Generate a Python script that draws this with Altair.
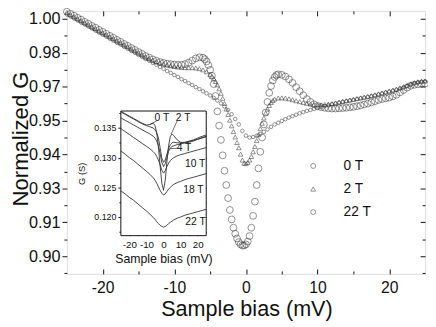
import json
import altair as alt
import pandas as pd

FONT = "Liberation Sans"
SERIES = ["0 T", "2 T", "22 T"]

# ---------------- main panel data (normalized conductance) ----------------
bias_0T = [-25, -24.5, -24, -23.5, -23, -22.5, -22, -21.5, -21, -20.5, -20, -19.5, -19, -18.5,
           -18, -17.5, -17, -16.5, -16, -15.5, -15, -14.5, -14, -13.5, -13, -12.5, -12, -11.5,
           -11, -10.5, -10, -9.5, -9, -8.5, -8, -7.5, -7, -6.5,
           -6, -5.75, -5.5, -5.25, -5, -4.75, -4.5, -4.25, -4, -3.75, -3.5, -3.25, -3, -2.75,
           -2.5, -2.25, -2, -1.75, -1.5, -1.25, -1, -0.75, -0.5, -0.25, 0, 0.25, 0.5, 0.75,
           1, 1.25, 1.5, 1.75, 2, 2.25, 2.5, 2.75, 3, 3.25, 3.5, 3.75, 4, 4.25, 4.5,
           5, 5.5, 6, 6.5, 7, 7.5, 8, 8.5, 9, 9.5, 10, 10.5, 11, 11.5, 12, 12.5, 13, 13.5, 14,
           14.5, 15, 15.5, 16, 16.5, 17, 17.5, 18, 18.5, 19, 19.5, 20, 20.5, 21, 21.5, 22, 22.5,
           23, 23.5, 24, 24.5, 25]
g_0T = [1.0030, 1.0021, 1.0013, 1.0004, 0.9996, 0.9987, 0.9979, 0.9970, 0.9962, 0.9953,
        0.9945, 0.9937, 0.9928, 0.9920, 0.9911, 0.9903, 0.9894, 0.9886, 0.9877, 0.9869,
        0.9860, 0.9852, 0.9843, 0.9836, 0.9829, 0.9823, 0.9818, 0.9814, 0.9811, 0.9809,
        0.9807, 0.9806, 0.9806, 0.9809, 0.9815, 0.9824, 0.9833, 0.9838,
        0.9836, 0.9830, 0.9820, 0.9805, 0.9785, 0.9760, 0.9725, 0.9675, 0.9610, 0.9550,
        0.9490, 0.9425, 0.9360, 0.9300, 0.9245, 0.9195, 0.9155, 0.9120, 0.9095, 0.9075,
        0.9060, 0.9050, 0.9045, 0.9045, 0.9050, 0.9062, 0.9085, 0.9120, 0.9170, 0.9230,
        0.9300, 0.9370, 0.9440, 0.9500, 0.9555, 0.9605, 0.9650, 0.9688, 0.9717, 0.9740,
        0.9755, 0.9763, 0.9766,
        0.9764, 0.9757, 0.9745, 0.9730, 0.9712, 0.9695, 0.9678, 0.9662, 0.9650, 0.9640,
        0.9633, 0.9628, 0.9625, 0.9623, 0.9622, 0.9622, 0.9623, 0.9624, 0.9625, 0.9627,
        0.9629, 0.9632, 0.9635, 0.9639, 0.9643, 0.9648, 0.9653, 0.9658, 0.9662, 0.9665,
        0.9668, 0.9673, 0.9680, 0.9690, 0.9700, 0.9710, 0.9718, 0.9722, 0.9724, 0.9726,
        0.9727]

bias_2T = [-25, -24.5, -24, -23.5, -23, -22.5, -22, -21.5, -21, -20.5, -20, -19.5, -19, -18.5,
           -18, -17.5, -17, -16.5, -16, -15.5, -15, -14.5, -14, -13.5, -13, -12.5, -12, -11.5,
           -11, -10.5, -10, -9.5, -9, -8.5, -8, -7.5, -7, -6.5, -6, -5.5, -5,
           -4.75, -4.5, -4.25, -4, -3.75, -3.5, -3.25, -3, -2.75, -2.5, -2.25, -2, -1.75, -1.5,
           -1.25, -1, -0.75, -0.5, -0.25, 0, 0.25, 0.5, 0.75, 1, 1.25, 1.5, 1.75, 2, 2.25, 2.5,
           2.75, 3, 3.25, 3.5, 3.75, 4,
           4.5, 5, 5.5, 6, 6.5, 7, 7.5, 8, 8.5, 9, 9.5, 10, 10.5, 11, 11.5, 12, 12.5, 13, 13.5,
           14, 14.5, 15, 15.5, 16, 16.5, 17, 17.5, 18, 18.5, 19, 19.5, 20, 20.5, 21, 21.5, 22,
           22.5, 23, 23.5, 24, 24.5, 25]
g_2T = [1.0027, 1.0018, 1.0010, 1.0001, 0.9993, 0.9984, 0.9976, 0.9967, 0.9959, 0.9950,
        0.9942, 0.9934, 0.9925, 0.9917, 0.9908, 0.9900, 0.9891, 0.9883, 0.9874, 0.9866,
        0.9857, 0.9849, 0.9840, 0.9833, 0.9826, 0.9820, 0.9815, 0.9810, 0.9806, 0.9802,
        0.9799, 0.9797, 0.9795, 0.9794, 0.9794, 0.9794, 0.9793, 0.9790, 0.9785, 0.9777,
        0.9766,
        0.9758, 0.9748, 0.9736, 0.9722, 0.9705, 0.9686, 0.9665, 0.9643, 0.9620, 0.9597,
        0.9573, 0.9549, 0.9525, 0.9502, 0.9479, 0.9457, 0.9430, 0.9405, 0.9392, 0.9390,
        0.9395, 0.9405, 0.9420, 0.9440, 0.9462, 0.9487, 0.9512, 0.9537, 0.9560, 0.9582,
        0.9603, 0.9620, 0.9635, 0.9647, 0.9656, 0.9662,
        0.9666, 0.9667, 0.9666, 0.9663, 0.9659, 0.9655, 0.9651, 0.9647, 0.9644, 0.9641,
        0.9639, 0.9638, 0.9638, 0.9639, 0.9641, 0.9643, 0.9646, 0.9649, 0.9652, 0.9655,
        0.9658, 0.9661, 0.9664, 0.9667, 0.9670, 0.9673, 0.9676, 0.9680, 0.9684, 0.9688,
        0.9692, 0.9696, 0.9700, 0.9704, 0.9709, 0.9714, 0.9720, 0.9726, 0.9731, 0.9735,
        0.9737, 0.9738]

bias_22T = [-25, -24.5, -24, -23.5, -23, -22.5, -22, -21.5, -21, -20.5, -20, -19.5, -19, -18.5,
            -18, -17.5, -17, -16.5, -16, -15.5, -15, -14.5, -14, -13.5, -13, -12.5, -12, -11.5,
            -11, -10.5, -10, -9.5, -9, -8.5, -8, -7.5, -7, -6.5, -6, -5.5, -5, -4.5, -4, -3.5,
            -3, -2.5, -2, -1.5, -1, -0.5, 0, 0.5, 1, 1.5, 2, 2.5, 3, 3.5, 4, 4.5, 5, 5.5, 6,
            6.5, 7, 7.5, 8, 8.5, 9, 9.5, 10, 10.5, 11, 11.5, 12, 12.5, 13, 13.5, 14, 14.5, 15,
            15.5, 16, 16.5, 17, 17.5, 18, 18.5, 19, 19.5, 20, 20.5, 21, 21.5, 22, 22.5, 23,
            23.5, 24, 24.5, 25]
g_22T = [1.0018, 1.0010, 1.0001, 0.9993, 0.9984, 0.9976, 0.9967, 0.9959, 0.9950, 0.9942,
         0.9933, 0.9925, 0.9916, 0.9908, 0.9899, 0.9891, 0.9882, 0.9874, 0.9865, 0.9857,
         0.9848, 0.9840, 0.9831, 0.9823, 0.9814, 0.9806, 0.9797, 0.9789, 0.9780, 0.9772,
         0.9763, 0.9755, 0.9746, 0.9738, 0.9729, 0.9721, 0.9712, 0.9704, 0.9695, 0.9686,
         0.9677,
         0.9667, 0.9656, 0.9644, 0.9631, 0.9616, 0.9598, 0.9578, 0.9555, 0.9528, 0.9508,
         0.9500, 0.9502, 0.9507, 0.9515, 0.9524, 0.9534, 0.9545, 0.9555, 0.9562, 0.9570,
         0.9577, 0.9584, 0.9590, 0.9596, 0.9602, 0.9607, 0.9612, 0.9616, 0.9620, 0.9624,
         0.9628, 0.9632, 0.9636, 0.9640, 0.9643, 0.9647, 0.9650, 0.9653, 0.9656, 0.9659,
         0.9662, 0.9665, 0.9668, 0.9671, 0.9674, 0.9677, 0.9681, 0.9685, 0.9689, 0.9693,
         0.9697, 0.9701, 0.9706, 0.9711, 0.9717, 0.9723, 0.9728, 0.9732, 0.9735, 0.9737]

marker_sizes = {"0 T": 48, "2 T": 22, "22 T": 13}

# ---------------- inset data (G in S) ----------------
inset_bias = [-25, -22.5, -20, -17.5, -15, -12.5, -10, -8, -6, -5, -4, -3, -2, -1, 0,
              1, 2, 3, 4, 5, 6, 8, 10, 12.5, 15, 17.5, 20, 22.5, 25]
inset_0T = [0.1378, 0.1374, 0.1370, 0.1366, 0.1362, 0.1358, 0.1355, 0.1356, 0.1358, 0.1354,
            0.1342, 0.1318, 0.1286, 0.1257, 0.1245, 0.1262, 0.1294, 0.1321, 0.1336, 0.1340,
            0.1337, 0.1330, 0.1326, 0.1325, 0.1326, 0.1328, 0.1331, 0.1334, 0.1336]
inset_2T = [0.1377, 0.1373, 0.1369, 0.1365, 0.1361, 0.1357, 0.1354, 0.1352, 0.1350, 0.1347,
            0.1342, 0.1333, 0.1317, 0.1299, 0.1292, 0.1296, 0.1306, 0.1316, 0.1322, 0.1325,
            0.1326, 0.1325, 0.1325, 0.1326, 0.1328, 0.1330, 0.1333, 0.1336, 0.1338]
inset_4T = [0.1367, 0.1363, 0.1359, 0.1355, 0.1351, 0.1347, 0.1343, 0.1340, 0.1336, 0.1333,
            0.1328, 0.1320, 0.1307, 0.1292, 0.1285, 0.1290, 0.1300, 0.1311, 0.1316, 0.1319,
            0.1320, 0.1322, 0.1323, 0.1325, 0.1327, 0.1329, 0.1331, 0.1333, 0.1335]
inset_10T = [0.1349, 0.1344, 0.1339, 0.1334, 0.1329, 0.1324, 0.1319, 0.1315, 0.1310, 0.1307,
             0.1302, 0.1296, 0.1288, 0.1279, 0.1274, 0.1278, 0.1285, 0.1291, 0.1295, 0.1298,
             0.1300, 0.1303, 0.1305, 0.1307, 0.1309, 0.1311, 0.1313, 0.1315, 0.1317]
inset_18T = [0.1311, 0.1306, 0.1300, 0.1295, 0.1289, 0.1283, 0.1277, 0.1272, 0.1266, 0.1262,
             0.1257, 0.1251, 0.1245, 0.1240, 0.1237, 0.1239, 0.1243, 0.1247, 0.1250, 0.1253,
             0.1255, 0.1258, 0.1260, 0.1263, 0.1265, 0.1267, 0.1269, 0.1271, 0.1273]
inset_22T = [0.1244, 0.1239, 0.1233, 0.1228, 0.1222, 0.1216, 0.1210, 0.1205, 0.1199, 0.1196,
             0.1192, 0.1189, 0.1186, 0.1184, 0.1183, 0.1184, 0.1186, 0.1189, 0.1191, 0.1193,
             0.1195, 0.1198, 0.1200, 0.1203, 0.1205, 0.1207, 0.1209, 0.1211, 0.1213]

inset_label_text = ["0 T", "2 T", "4 T", "10 T", "18 T", "22 T"]
inset_label_x = [-1.0, 11.5, 12.0, 18.5, 17.5, 18.7]
inset_label_y = [0.1367, 0.1367, 0.1316, 0.1290, 0.1246, 0.1192]

leader_x = [-4.0, 8.0, 8.8]
leader_y = [0.1362, 0.1362, 0.1316]
leader_x2 = [-8.0, 4.5, 3.5]
leader_y2 = [0.1356, 0.1340, 0.1315]

# ---------------- ticks ----------------
y_tick_labels = ["0.90", "0.91", "0.93", "0.94", "0.95", "0.97", "0.98", "1.00"]
y_major = [0.9 + i / 70 for i in range(8)]
y_minor = [0.9 + (i - 0.5) / 70 for i in range(8)]
x_major = [-20, -10, 0, 10, 20]
x_minor = [-15, -5, 5, 15]
ix_major = [-20, -10, 0, 10, 20]
ix_minor = [-15, -5, 5, 15]
iy_major = [0.120, 0.125, 0.130, 0.135]
iy_minor = [0.1175, 0.1225, 0.1275, 0.1325, 0.1375]

# ---------------- layout ----------------
W, H = 365, 268
X_DOM = [-25, 25]
Y_DOM = [0.89256, 1.00331]
IX_DOM = [-25, 25]
IY_DOM = [0.11686, 0.13786]
IX_RANGE = [55, 142]
IY_RANGE = [229, 102]
INK = "#111111"
MARK = "#3a3a3a"


def sx():
    return alt.Scale(domain=X_DOM, nice=False, zero=False)


def sy():
    return alt.Scale(domain=Y_DOM, nice=False, zero=False)


def isx():
    return alt.Scale(domain=IX_DOM, range=IX_RANGE, nice=False, zero=False)


def isy():
    return alt.Scale(domain=IY_DOM, range=IY_RANGE, nice=False, zero=False)


def tick_axis(orient, values, size, offset):
    return alt.Axis(orient=orient, values=values, tickSize=size, tickColor=INK, tickWidth=1,
                    labels=False, domain=False, grid=False, title="", offset=offset)


neg_label = "datum.value < 0 ? '-' + abs(datum.value) : '' + datum.value"

df_main = pd.concat([
    pd.DataFrame({"bias": bias_0T, "g": g_0T, "series": "0 T"}),
    pd.DataFrame({"bias": bias_2T, "g": g_2T, "series": "2 T"}),
    pd.DataFrame({"bias": bias_22T, "g": g_22T, "series": "22 T"}),
], ignore_index=True)

dummy = pd.DataFrame({"bias": [0.0], "g": [0.95], "ib": [0.0], "ig": [0.125]})

shape_scale = alt.Scale(domain=SERIES, range=["circle", "triangle-up", "circle"])
shape_legend = alt.Legend(title=None, orient="none", legendX=244, legendY=151,
                          labelFontSize=14, labelFont=FONT, labelColor=INK,
                          labelOffset=24, symbolSize=25, symbolStrokeWidth=0.8,
                          symbolStrokeColor="#444444", symbolFillColor="white",
                          rowPadding=9.5, padding=0)

x_main_axis = alt.Axis(
    orient="bottom", values=x_major, ticks=False, domain=False, grid=False,
    labelExpr=neg_label, labelFontSize=16, labelPadding=6, labelColor=INK, labelFont=FONT,
    title="Sample bias (mV)", titleFontSize=22, titleFontWeight="normal", titleColor=INK,
    titleFont=FONT, titleX=183, titleY=42, titleBaseline="alphabetic")
y_main_axis = alt.Axis(
    orient="left", values=y_major,
    labelExpr=json.dumps(y_tick_labels) + "[round((datum.value-0.9)*70)]",
    tickSize=5, tickColor=INK, domain=False, grid=False, labelFontSize=16.5, labelPadding=2,
    labelColor=INK, labelFont=FONT, title="Normalized G", titleFontSize=22.5,
    titleFontWeight="normal", titleColor=INK, titleFont=FONT, titleX=-47, titleY=130,
    titleBaseline="middle", titleAngle=270)


def point_layer(name, xax, yax):
    sub = df_main[df_main["series"] == name]
    return alt.Chart(sub).mark_point(filled=False, strokeWidth=0.8, color=MARK,
                                     size=marker_sizes[name]).encode(
        x=alt.X("bias:Q", scale=sx(), axis=xax),
        y=alt.Y("g:Q", scale=sy(), axis=yax),
        shape=alt.Shape("series:N", scale=shape_scale, legend=shape_legend),
    )


p0 = point_layer("0 T", x_main_axis, y_main_axis)
p2 = point_layer("2 T", None, None)
p22 = point_layer("22 T", None, None)


def main_ticks(xax, yax):
    return alt.Chart(dummy).mark_point(opacity=0, size=1).encode(
        x=alt.X("bias:Q", scale=sx(), axis=xax),
        y=alt.Y("g:Q", scale=sy(), axis=yax),
    )


mt1 = main_ticks(tick_axis("bottom", x_major, 5, -5), tick_axis("left", y_minor, 3, 0))
mt2 = main_ticks(tick_axis("bottom", x_minor, 3, -3), tick_axis("right", y_major, 5, -5))
mt3 = main_ticks(tick_axis("top", x_major, 5, -5), tick_axis("right", y_minor, 3, -3))
mt4 = main_ticks(tick_axis("top", x_minor, 3, -3), None)

# ---------------- inset ----------------
frame_df = pd.DataFrame({"x1": [IX_DOM[0]], "x2": [IX_DOM[1]], "y1": [IY_DOM[0]], "y2": [IY_DOM[1]]})
inset_frame = alt.Chart(frame_df).mark_rect(fill="white", stroke=INK, strokeWidth=1).encode(
    x=alt.X("x1:Q", scale=isx(), axis=None), x2="x2:Q",
    y=alt.Y("y1:Q", scale=isy(), axis=None), y2="y2:Q",
)

inset_df = pd.concat([
    pd.DataFrame({"ib": inset_bias, "ig": vals, "field": name})
    for name, vals in [("0 T", inset_0T), ("2 T", inset_2T), ("4 T", inset_4T),
                       ("10 T", inset_10T), ("18 T", inset_18T), ("22 T", inset_22T)]
], ignore_index=True)

inset_lines = alt.Chart(inset_df).mark_line(color="#333333", strokeWidth=0.9).encode(
    x=alt.X("ib:Q", scale=isx(), axis=alt.Axis(
        orient="bottom", values=ix_major, ticks=False, domain=False, grid=False, offset=-39,
        labelExpr=neg_label, labelFontSize=10, labelPadding=4, labelColor=INK, labelFont=FONT,
        title="Sample bias (mV)", titleFontSize=12.5, titleFontWeight="normal", titleColor=INK,
        titleFont=FONT, titleX=98.5, titleY=27, titleBaseline="alphabetic")),
    y=alt.Y("ig:Q", scale=isy(), axis=alt.Axis(
        orient="left", values=iy_major, format=".3f", tickSize=3, tickColor=INK, domain=False,
        grid=False, offset=-55, labelFontSize=9, labelPadding=2, labelColor=INK, labelFont=FONT,
        title="G (S)", titleFontSize=9.5, titleFontWeight="normal", titleColor=INK, titleFont=FONT,
        titleX=-40.5, titleY=165.5, titleBaseline="middle", titleAngle=270)),
    detail="field:N",
)


def inset_ticks(xax, yax):
    return alt.Chart(dummy).mark_point(opacity=0, size=1).encode(
        x=alt.X("ib:Q", scale=isx(), axis=xax),
        y=alt.Y("ig:Q", scale=isy(), axis=yax),
    )


it1 = inset_ticks(tick_axis("bottom", ix_major, 4, -43), tick_axis("left", iy_minor, 2, -55))
it2 = inset_ticks(tick_axis("bottom", ix_minor, 2, -41), tick_axis("right", iy_major, 4, -227))
it3 = inset_ticks(tick_axis("top", ix_major, 4, -106), tick_axis("right", iy_minor, 2, -225))
it4 = inset_ticks(tick_axis("top", ix_minor, 2, -104), None)

labels_df = pd.DataFrame({"ib": inset_label_x, "ig": inset_label_y, "t": inset_label_text})
inset_labels = alt.Chart(labels_df).mark_text(fontSize=10.5, font=FONT, color=INK).encode(
    x=alt.X("ib:Q", scale=isx(), axis=None),
    y=alt.Y("ig:Q", scale=isy(), axis=None),
    text="t:N",
)

leader_df = pd.DataFrame({"a": leader_x, "b": leader_y, "a2": leader_x2, "b2": leader_y2})
inset_leaders = alt.Chart(leader_df).mark_rule(color="#333333", strokeWidth=0.7).encode(
    x=alt.X("a:Q", scale=isx(), axis=None), x2="a2:Q",
    y=alt.Y("b:Q", scale=isy(), axis=None), y2="b2:Q",
)

chart = alt.layer(
    p0, p2, p22, mt1, mt2, mt3, mt4,
    inset_frame, inset_lines, it1, it2, it3, it4, inset_labels, inset_leaders,
).resolve_scale(
    x="independent", y="independent", shape="shared"
).properties(
    width=W, height=H,
    autosize=alt.AutoSizeParams(type="none"),
    padding={"left": 60, "top": 0, "right": 3, "bottom": 45},
).configure_view(
    stroke=INK, strokeWidth=1
).configure(
    font=FONT, background="white"
)

chart.save("out.html", embed_options={"renderer": "svg", "actions": False})
